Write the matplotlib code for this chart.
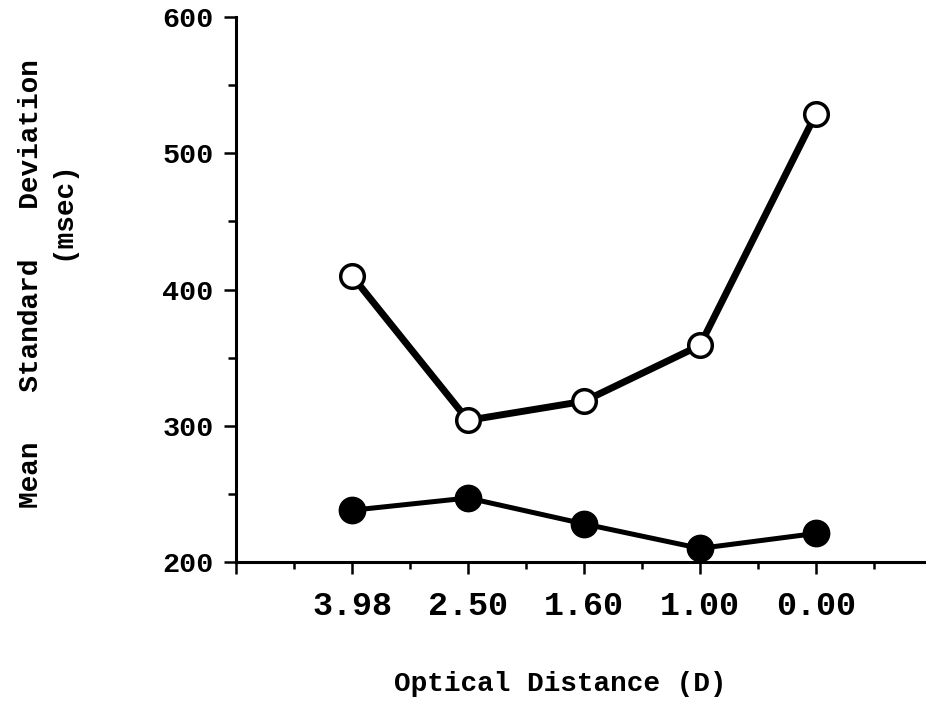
"""Mean SD vs optical distance, two conditions (open vs filled markers)."""
import numpy as np, matplotlib
matplotlib.use('Agg')
import matplotlib.pyplot as plt
from matplotlib.ticker import MultipleLocator

plt.rcParams['font.family'] = ['Liberation Mono', 'DejaVu Sans Mono']
plt.rcParams['font.weight'] = 'bold'

# --- data ---
distances = ['3.98', '2.50', '1.60', '1.00', '0.00']
sd_open = [410, 304, 318, 359, 529]
sd_filled = [238, 247, 228, 210, 221]

x = np.arange(1, len(distances) + 1)

fig = plt.figure(figsize=(9.26, 7.05), dpi=100)
ax = fig.add_axes([0.2549, 0.2028, 0.7516, 0.7731])

ax.plot(x, sd_open, color='black', lw=5, marker='o', ms=17,
        mfc='white', mec='black', mew=2.5, zorder=3)
ax.plot(x, sd_filled, color='black', lw=3.6, marker='o', ms=19,
        mfc='black', mec='black', zorder=3)

ax.set_xlim(0, 6)
ax.set_ylim(200, 600)
ax.spines['top'].set_visible(False)
ax.spines['right'].set_visible(False)
for s in ('left', 'bottom'):
    ax.spines[s].set_linewidth(2.2)
ax.spines['left'].set_bounds(200, 600)

ax.set_xticks(np.r_[0, x], [''] + distances)
ax.set_xticks(np.arange(0.5, 6, 1), minor=True)
ax.set_yticks([200, 300, 400, 500, 600])
ax.yaxis.set_minor_locator(MultipleLocator(50))

ax.tick_params(axis='x', which='major', direction='out', length=8.6, width=1.8,
               pad=12, labelsize=24)
ax.tick_params(axis='x', which='minor', direction='out', length=5, width=1.8)
ax.tick_params(axis='y', which='major', direction='out', length=9, width=1.8,
               pad=7, labelsize=20.5)
ax.tick_params(axis='y', which='minor', direction='out', length=5.5, width=1.8)

fig.text(0.605, 0.012, 'Optical Distance (D)', ha='center', va='bottom',
         fontsize=20, fontweight='bold')
fig.text(0.033, 0.598, 'Mean   Standard   Deviation', rotation=90,
         ha='center', va='center', fontsize=20, fontweight='bold')
fig.text(0.067, 0.702, '(msec)', rotation=90,
         ha='center', va='center', fontsize=20, fontweight='bold')

fig.savefig('out.png', dpi=100)
print('Saved out.png')
